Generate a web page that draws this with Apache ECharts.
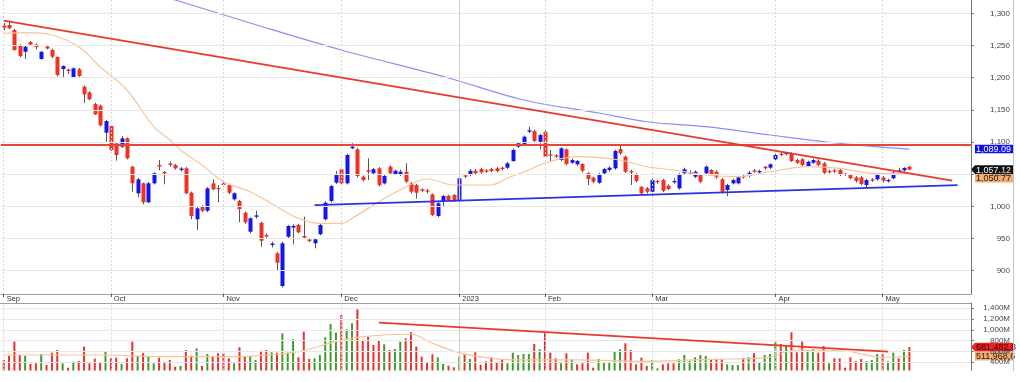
<!DOCTYPE html>
<html><head><meta charset="utf-8">
<script src="https://cdn.jsdelivr.net/npm/echarts@6/dist/echarts.min.js"></script>
<style>html,body{margin:0;padding:0;background:#fff}#c{width:1020px;height:382px}</style>
</head><body><div id="c"></div>
<script>
// ---- tick labels / categories ----
const monthNames = ['Sep','Oct','Nov','Dec','2023','Feb','Mar','Apr','May'];
const monthSessions = [20,21,22,22,16,20,23,20,17]; // May includes empty future slots
const priceTicks = [900,950,1000,1050,1100,1150,1200,1250,1300];
const volTicks = [400,600,800,1000,1200,1400];

// ---- price data ----
const opens = [1281.0,1281.8,1274.0,1250.7,1240.3,1255.4,1251.5,1229.0,1248.4,1243.0,
 1232.1,1213.4,1212.7,1200.5,1213.0,1185.9,1177.2,1159.1,1156.4,1114.5,
 1124.9,1097.9,1092.7,1105.7,1061.6,1020.3,1035.8,1006.3,1035.8,1064.3,
 1053.4,1066.6,1064.3,1056.5,1059.1,1021.2,979.9,1000.5,993.2,1035.8,
 1028.5,1035.5,1033.2,1011.0,1008.3,990.1,960.6,983.8,974.6,955.5,
 939.9,927.0,876.2,952.8,967.1,971.0,953.9,948.5,942.6,956.6,
 979.9,1008.3,1036.8,1057.6,1035.8,1090.2,1088.6,1046.1,1056.2,1051.4,
 1059.1,1035.8,1061.6,1050.3,1048.7,1053.8,1035.8,1033.2,1026.5,1024.9,
 1018.7,985.0,1008.3,1016.5,1017.6,1009.9,1048.2,1048.7,1055.4,1058.0,
 1056.0,1058.0,1059.1,1060.1,1060.1,1070.5,1092.7,1095.3,1116.0,1117.1,
 1100.5,1116.0,1080.9,1079.3,1072.0,1088.6,1067.8,1065.3,1065.8,1051.4,
 1044.5,1036.7,1051.4,1056.5,1059.1,1089.1,1077.2,1054.9,1050.3,1030.5,
 1028.0,1022.8,1039.4,1040.9,1032.1,1037.4,1028.0,1051.4,1051.4,1046.1,
 1048.7,1051.4,1056.5,1053.8,1042.0,1025.4,1035.8,1035.8,1047.2,1047.2,
 1056.0,1052.9,1061.6,1060.1,1073.1,1081.8,1081.3,1082.4,1072.0,1073.1,
 1062.7,1067.8,1070.9,1066.9,1054.9,1056.0,1056.5,1050.7,1048.7,1045.1,
 1045.1,1033.2,1042.0,1042.0,1045.1,1038.9,1043.6,1054.0,1056.0,1061.6];
const closes = [1277.9,1276.7,1243.0,1233.6,1248.1,1251.5,1247.6,1240.3,1245.3,1232.6,
 1204.1,1218.1,1210.3,1214.5,1202.6,1174.1,1166.4,1143.0,1125.9,1132.6,
 1087.6,1079.8,1105.7,1074.7,1035.8,1042.0,1006.3,1035.8,1051.3,1061.9,
 1051.1,1064.3,1059.1,1058.8,1020.3,985.0,996.9,993.2,1028.0,1026.5,
 1026.9,1033.2,1021.2,1020.3,995.8,975.2,981.4,986.0,946.6,953.2,
 942.2,912.4,942.6,969.5,969.5,959.7,951.5,946.2,948.8,971.0,
 1005.7,1031.6,1048.7,1035.8,1079.8,1092.7,1047.2,1040.9,1053.7,1057.6,
 1033.2,1047.2,1051.4,1055.4,1053.8,1038.3,1022.8,1021.2,1024.3,1022.8,
 986.6,1004.7,1016.1,1009.9,1008.8,1043.6,1046.1,1055.4,1051.4,1052.9,
 1053.9,1054.9,1054.9,1058.0,1066.9,1087.6,1098.0,1108.2,1118.2,1101.6,
 1110.9,1077.2,1078.7,1077.2,1090.2,1065.8,1071.9,1070.5,1055.4,1042.5,
 1038.3,1049.8,1058.0,1060.1,1086.0,1082.4,1053.8,1052.9,1039.4,1020.3,
 1022.8,1040.9,1037.4,1024.3,1026.9,1039.4,1049.8,1057.6,1053.4,1053.8,
 1038.3,1061.6,1050.3,1045.1,1022.8,1033.2,1040.9,1045.1,1045.1,1052.3,
 1053.9,1054.9,1059.1,1065.3,1079.8,1079.8,1083.4,1070.5,1067.8,1064.3,
 1069.4,1072.0,1064.3,1052.3,1052.9,1053.9,1048.7,1048.7,1043.6,1039.4,
 1034.7,1040.9,1039.9,1048.7,1039.4,1040.9,1052.3,1056.0,1059.5,1057.12];
const lows = [1274,1275,1242,1232,1229,1250,1244,1228,1244,1230,
 1202,1200.5,1205.7,1199,1201,1160.6,1165,1142,1124,1100.5,
 1086,1070.9,1091,1073,1022.8,1014,1003,1005,1034,1056,
 1034.3,1062,1057,1054,1019,980,963.2,991,991,1025,
 1006,1031,1019,1009,975.2,973,958,981,937.3,951,
 936,901.1,874,951,941,958,950,944,934.8,955,
 978,1006,1035,1034,1034,1089,1045,1039,1040.9,1049,
 1031,1034,1050,1049,1047,1036,1020,1012,1022,1020,
 985,983,1000,1008,1007,1008,1044,1047,1049,1051,
 1052,1053,1053,1056,1058,1069,1091,1094,1114,1100,
 1088.6,1075,1068.9,1075,1070,1064,1066,1063,1053,1033.2,
 1036,1035,1049,1054,1057,1080,1052,1033.2,1037,1018,
 1020,1014.1,1035,1022,1025,1035,1026,1050,1049,1044,
 1036,1050,1048,1043,1020,1016,1034,1034,1043,1045,
 1052,1051,1057,1058,1071,1078,1079,1069,1066,1062,
 1061,1066,1062,1050,1051,1052,1047,1047,1042,1037,
 1033,1029,1038,1040,1037,1037,1042,1053,1054,1056];
const highs = [1285,1287,1276,1252,1249,1257,1253,1241,1251,1245,
 1233,1219,1214,1216,1215,1188,1179,1161,1158,1134,
 1127,1100,1109.3,1107,1063,1044,1037,1038,1053,1072,
 1055,1070,1066,1061,1061,1023,1000.5,1002,1030,1042,
 1033,1040,1035,1022,1010,992,983,993.2,976,958,
 945,929,945,971,972,973,983.9,950,950,973,
 1008,1033,1055,1060,1082,1098,1091,1048,1074.6,1060,
 1061,1049,1064,1057,1057,1066.9,1038,1035,1028,1027,
 1020,1007,1018,1018,1019,1045,1050,1058,1058,1060,
 1058,1060,1061,1062,1069,1090,1100,1110,1123.8,1119,
 1113,1118,1087.6,1081,1092,1090,1074,1072,1067,1053,
 1046,1052,1060,1062,1088,1093.8,1079,1057,1052,1031,
 1030,1043,1041,1043,1034,1043.6,1052,1060,1056,1056,
 1050,1064,1058,1056,1044,1035,1043,1047,1049,1055,
 1058,1057,1063,1067,1082,1084,1085,1084,1074,1075,
 1071,1074,1073,1069,1057,1058,1058,1052,1050,1047,
 1047,1043,1044,1051,1047,1043,1054,1060,1061,1063];

// ---- volume (millions) and bar colour (1 = up/green, 0 = down/red) ----
const volumes = [443,517,782,535,522,369,381,554,350,578,
 628,381,300,411,424,689,381,467,393,596,
 474,485,369,474,782,517,567,504,381,485,
 411,443,319,331,628,522,659,331,554,517,
 567,567,474,381,678,517,517,443,615,628,
 585,578,937,578,826,493,967,461,474,535,
 863,1109,948,1276,1011,1122,1381,813,874,720,
 800,733,628,646,782,844,956,689,504,393,
 548,493,369,337,307,504,548,461,585,355,
 420,490,400,455,381,578,535,554,554,739,
 641,967,578,474,381,567,455,363,381,578,
 300,461,393,406,609,641,752,628,363,485,
 331,443,289,363,381,381,455,535,424,493,
 535,517,443,461,455,363,350,350,474,493,
 567,393,535,554,776,739,702,956,585,782,
 628,641,578,702,381,474,474,300,493,424,
 461,418,443,554,554,418,578,474,628,681.48];
const volUp = [0,0,0,0,1,0,0,1,0,0, 0,1,0,1,0,0,0,0,0,1, 0,0,1,0,0,1,0,1,1,0,
 0,0,0,1,0,0,1,0,1,0, 0,0,0,1,0,0,1,1,0,0, 1,0,1,1,1,0,0,0,1,1,
 1,1,1,0,1,1,0,0,0,0, 0,1,0,1,1,0,0,0,0,0, 0,1,1,0,0,1,0,1,0,0,
 0,0,0,0,1,1,1,1,1,0, 1,0,0,0,1,0,1,0,0,0, 0,1,1,1,1,1,0,0,0,0,
 0,1,1,0,0,0,1,1,1,1, 1,1,0,0,0,1,1,1,0,1, 0,1,1,1,1,0,1,0,0,0,
 1,1,0,0,1,0,0,0,0,0, 0,1,1,1,0,1,1,0,1,0];

// ---- moving averages: [sessionIndex, value] ----
const maShortPts = [[0,1268.9],[4,1269.9],[9,1266.3],[14,1248.1],[18,1217.0],[23,1180.8],[28,1123.8],
 [31,1103.1],[33,1087.6],[37,1064.3],[41,1038.3],[46,1022.8],[51,999.5],[55,981.4],[59,973.7],
 [63,973.7],[65,981.4],[70,1007.2],[74,1025.4],[79,1042.5],[84,1033.2],[91,1033.2],[94,1044.1],
 [98,1056.5],[101,1067.4],[107,1077.2],[115,1072.0],[120,1061.6],[125,1056.5],[131,1048.7],
 [137,1046.1],[143,1053.8],[150,1061.6],[156,1059.1],[162,1051.4],[169,1050.77]];
const maLongPts = [[24,1340],[32,1320.7],[46,1284.9],[63,1243],[83,1199.5],[97,1165.3],[111,1145.1],
 [120,1131.5],[131,1123.8],[143,1110.9],[156,1098],[169,1089.09]];
const volMaPts = [[0,535],[18,535],[30,504],[43,504],[49,535],[55,596],[62,782],[67,874],[76,919],
 [80,752],[85,578],[89,500],[95,443],[107,443],[120,418],[132,455],[142,480],[148,628],[157,609],
 [164,493],[169,511.97]];

// ---- drawn trend lines ----
const resistanceLevel = 1095;
const downTrend = [[0,1288.5],[177,1040]];
const supportTrend = [[58,1002],[178,1033]];
const volTrend = [[70,1133],[165,596]];

// ---- last-value tags ----
const tagLastClose = {value:1057.12, text:'1,057.12'};
const tagMaLong = {value:1089.09, text:'1,089.09'};
const tagMaShort = {value:1050.77, text:'1,050.77'};
const tagLastVol = {value:681.48, text:'681,482,8'};
const tagVolMa = {value:511.97, text:'511,968,6'};

// ---- build categories ----
const categories = [];
monthNames.forEach((m, mi) => { for (let k = 0; k < monthSessions[mi]; k++) categories.push(m + '|' + k); });
const monthStarts = monthNames.map(m => m + '|0');
const isStart = (i, v) => typeof v === 'string' && v.endsWith('|0');

const candleData = opens.map((o, i) => [i, o, closes[i], lows[i], highs[i]]);
const UP = '#1414f0', DOWN = '#ef3222';
function renderCandle(params, api) {
  const i = api.value(0), o = api.value(1), c = api.value(2), l = api.value(3), h = api.value(4);
  const po = api.coord([i, o]), pc = api.coord([i, c]), pl = api.coord([i, l]), ph = api.coord([i, h]);
  const w = 4;
  const x = Math.round(po[0]);
  const top = Math.min(po[1], pc[1]);
  const bh = Math.max(1.2, Math.abs(po[1] - pc[1]));
  return {type: 'group', children: [
    {type: 'line', shape: {x1: x + 0.5, y1: ph[1], x2: x + 0.5, y2: pl[1]}, style: {stroke: '#555', lineWidth: 1}},
    {type: 'rect', shape: {x: x - 1.5, y: top, width: w, height: bh}, style: {fill: c >= o ? UP : DOWN}}
  ]};
}

const gridLineH = '#e9e9e9';
function vLines() {
  return monthStarts.map(c => ({xAxis: c, lineStyle: c === '2023|0'
    ? {color: '#d2d2d2', width: 1.2, type: 'solid'}
    : {color: '#d8d8d8', width: 1, type: [2, 2]}}));
}
const FONT = '"Liberation Sans", Arial, sans-serif';

const option = {
  animation: false,
  backgroundColor: '#ffffff',
  grid: [
    {left: 1, top: 0, width: 970, height: 294},
    {left: 1, top: 303, width: 970, height: 67.5}
  ],
  xAxis: [
    {type: 'category', gridIndex: 0, data: categories, boundaryGap: true,
     axisLine: {show: true, lineStyle: {color: '#a0a0a0', width: 1}},
     axisTick: {show: true, interval: isStart, alignWithLabel: true, length: 3, lineStyle: {color: '#555'}},
     axisLabel: {show: true, interval: isStart, formatter: v => v.split('|')[0], align: 'left',
       margin: 1, fontSize: 7.5, color: '#333', fontFamily: FONT, padding: [0, 0, 0, 3]},
     splitLine: {show: false}},
    {type: 'category', gridIndex: 1, data: categories, boundaryGap: true,
     axisLine: {show: false}, axisTick: {show: false}, axisLabel: {show: false}, splitLine: {show: false}}
  ],
  yAxis: [
    {type: 'value', gridIndex: 0, position: 'right', min: 863.8, max: 1320.7, scale: true,
     axisLine: {show: true, lineStyle: {color: '#777'}},
     axisTick: {show: true, length: 3, customValues: priceTicks, lineStyle: {color: '#777'}},
     axisLabel: {customValues: priceTicks, formatter: v => v.toLocaleString('en-US'), align: 'right',
       margin: 39, fontSize: 8, color: '#444', fontFamily: FONT},
     splitLine: {show: false}},
    {type: 'value', gridIndex: 1, position: 'right', min: 248, max: 1498, scale: true,
     axisLine: {show: true, lineStyle: {color: '#777'}},
     axisTick: {show: true, length: 3, customValues: volTicks, lineStyle: {color: '#777'}},
     axisLabel: {customValues: volTicks, formatter: v => v.toLocaleString('en-US') + 'M', align: 'right',
       margin: 39, fontSize: 8, color: '#444', fontFamily: FONT},
     splitLine: {show: false}}
  ],
  series: [
    {type: 'line', xAxisIndex: 0, yAxisIndex: 0, data: [], silent: true, z: 0,
     markLine: {silent: true, symbol: 'none', label: {show: false}, animation: false,
       data: [...priceTicks.map(v => ({yAxis: v, lineStyle: {color: gridLineH, width: 1, type: 'solid'}})), ...vLines()]}},
    {type: 'line', xAxisIndex: 1, yAxisIndex: 1, data: [], silent: true, z: 0,
     markLine: {silent: true, symbol: 'none', label: {show: false}, animation: false,
       data: [...volTicks.map(v => ({yAxis: v, lineStyle: {color: gridLineH, width: 1, type: 'solid'}})), ...vLines()]}},
    {type: 'custom', name: 'price', xAxisIndex: 0, yAxisIndex: 0, data: candleData, renderItem: renderCandle,
     encode: {x: 0, y: [1, 2, 3, 4]}, z: 3, clip: true, silent: true},
    {type: 'line', xAxisIndex: 0, yAxisIndex: 0, data: maShortPts, symbol: 'none', smooth: 0.35, z: 4,
     lineStyle: {color: '#f7c49a', width: 1.2}, silent: true},
    {type: 'line', xAxisIndex: 0, yAxisIndex: 0, data: maLongPts, symbol: 'none', smooth: 0.35, z: 4,
     lineStyle: {color: '#8e8ef2', width: 1.2}, silent: true, clip: true},
    {type: 'line', xAxisIndex: 0, yAxisIndex: 0, data: downTrend, symbol: 'none', z: 5,
     lineStyle: {color: '#e8392e', width: 1.8}, silent: true,
     markLine: {silent: true, symbol: 'none', label: {show: false},
       data: [{yAxis: resistanceLevel, lineStyle: {color: '#e8453c', width: 1.8, type: 'solid'}}]}},
    {type: 'line', xAxisIndex: 0, yAxisIndex: 0, data: supportTrend, symbol: 'none', z: 5,
     lineStyle: {color: '#2a33dd', width: 1.8}, silent: true},
    {type: 'bar', xAxisIndex: 1, yAxisIndex: 1, barWidth: 2, z: 3, silent: true, clip: true,
     data: volumes.map((v, i) => ({value: v, itemStyle: {color: volUp[i] ? '#3e9a2c' : '#e8302a'}}))},
    {type: 'line', xAxisIndex: 1, yAxisIndex: 1, data: volMaPts, symbol: 'none', smooth: 0.35, z: 4,
     lineStyle: {color: '#f7c49a', width: 1.2}, silent: true},
    {type: 'line', xAxisIndex: 1, yAxisIndex: 1, data: volTrend, symbol: 'none', z: 5,
     lineStyle: {color: '#e8392e', width: 1.8}, silent: true}
  ]
};

const chart = echarts.init(document.getElementById('c'), null, {renderer: 'canvas'});
chart.setOption(option);

// ---- tags and frame ----
function tagEl(y, text, bg, fg, arrow) {
  const x0 = 975, w = 38, h = 8.6;
  const ch = [];
  if (arrow) ch.push({type: 'polygon', shape: {points: [[x0 - 4, y], [x0, y - h / 2], [x0, y + h / 2]]}, style: {fill: bg}});
  ch.push({type: 'rect', shape: {x: x0, y: y - h / 2, width: w, height: h}, style: {fill: bg}});
  ch.push({type: 'text', style: {text: text, x: x0 + 1, y: y + 0.5, align: 'left', verticalAlign: 'middle',
    fill: fg, font: '9px ' + FONT}});
  return {type: 'group', z: 100, children: ch};
}
const yp = (ax, v) => chart.convertToPixel({yAxisIndex: ax}, v);
const yBlue = yp(0, tagMaLong.value);
const yClose = yp(0, tagLastClose.value);
const yOrange = Math.max(yp(0, tagMaShort.value), yClose + 8.6);
const yVol = yp(1, tagLastVol.value);
const yVolMa = Math.max(yp(1, tagVolMa.value), yVol + 8.6);
chart.setOption({graphic: [
  {type: 'line', shape: {x1: 1013.5, y1: 0, x2: 1013.5, y2: 371}, style: {stroke: '#c4c4c4', lineWidth: 1}, z: 50},
  {type: 'line', shape: {x1: 0, y1: 303.5, x2: 971, y2: 303.5}, style: {stroke: '#a0a0a0', lineWidth: 1}, z: 50},
  tagEl(yBlue, tagMaLong.text, '#1010f0', '#ffffff', false),
  tagEl(yClose, tagLastClose.text, '#111111', '#ffffff', true),
  tagEl(yOrange, tagMaShort.text, '#f5ad72', '#222222', false),
  tagEl(yVol, tagLastVol.text, '#ee2222', '#3a0000', true),
  tagEl(yVolMa, tagVolMa.text, '#f5ad72', '#222222', false)
]});
</script>
</body></html>
